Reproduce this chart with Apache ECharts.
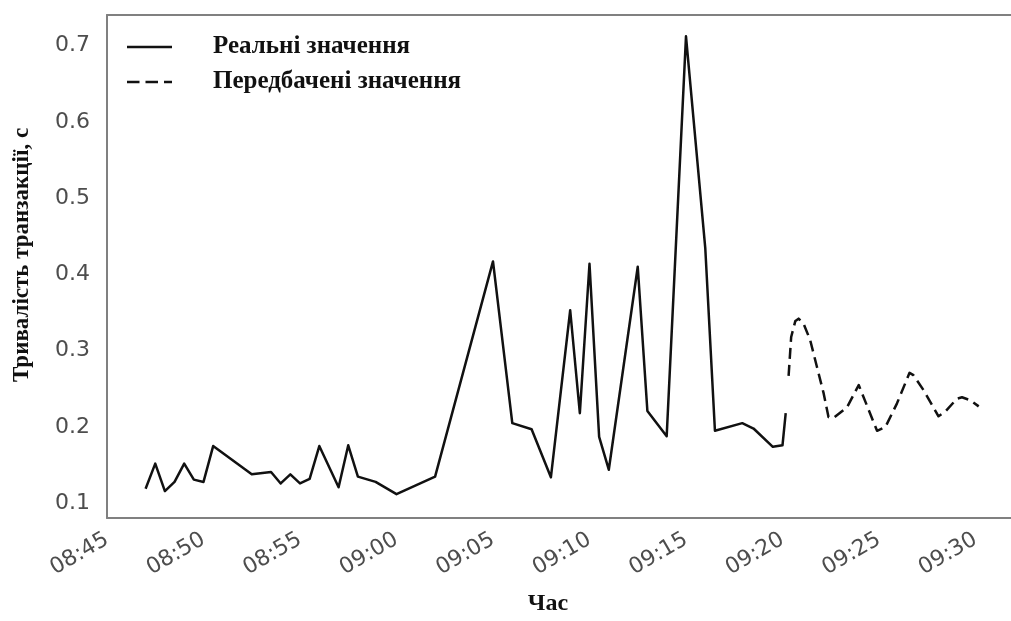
<!DOCTYPE html>
<html>
<head>
<meta charset="utf-8">
<script src="https://cdn.jsdelivr.net/npm/echarts@6/dist/echarts.min.js"></script>
<style>
  html, body { margin: 0; padding: 0; background: #fff; }
  #chart { width: 1011px; height: 621px; }
</style>
</head>
<body>
<div id="chart"></div>
<script>
// Measured transaction durations (seconds) with their timestamps
const realTimes = [
  '08:47:00', '08:47:30', '08:48:00', '08:48:30', '08:49:00', '08:49:30', '08:50:00', '08:50:30',
  '08:52:30', '08:53:30', '08:54:00', '08:54:30', '08:55:00', '08:55:30', '08:56:00', '08:57:00',
  '08:57:30', '08:58:00', '08:58:55', '09:00:00', '09:02:00', '09:05:00', '09:06:00', '09:07:00',
  '09:08:00', '09:09:00', '09:09:30', '09:10:00', '09:10:30', '09:11:00', '09:12:30', '09:13:00',
  '09:14:00', '09:15:00', '09:16:00', '09:16:30', '09:17:55', '09:18:30', '09:19:30', '09:20:00',
  '09:20:10'
];
const realValues = [
  0.119, 0.152, 0.116, 0.128, 0.152, 0.131, 0.128, 0.175,
  0.138, 0.141, 0.126, 0.138, 0.126, 0.132, 0.175, 0.121,
  0.176, 0.135, 0.128, 0.112, 0.135, 0.417, 0.205, 0.197,
  0.134, 0.353, 0.218, 0.414, 0.187, 0.144, 0.410, 0.221,
  0.188, 0.712, 0.434, 0.195, 0.205, 0.198, 0.174, 0.176,
  0.218
];

// Forecast values
const predTimes = [
  '09:20:19', '09:20:27', '09:20:40', '09:20:50', '09:21:05', '09:21:26', '09:21:47', '09:22:08',
  '09:22:23', '09:22:39', '09:23:21', '09:23:57', '09:24:54', '09:25:20', '09:25:56', '09:26:35',
  '09:26:47', '09:27:19', '09:28:05', '09:28:26', '09:29:02', '09:29:18', '09:29:44', '09:30:10'
];
const predValues = [
  0.267, 0.318, 0.339, 0.342, 0.336, 0.314, 0.279, 0.244,
  0.213, 0.212, 0.226, 0.255, 0.195, 0.200, 0.231, 0.271,
  0.268, 0.248, 0.214, 0.220, 0.237, 0.239, 0.235, 0.227
];

const xTickLabels = ['08:45', '08:50', '08:55', '09:00', '09:05', '09:10', '09:15', '09:20', '09:25', '09:30'];
const yTickValues = [0.1, 0.2, 0.3, 0.4, 0.5, 0.6, 0.7];

const BASE_MIN = 8 * 60 + 45;
function toMinutes(s) {
  const p = s.split(':').map(Number);
  return p[0] * 60 + p[1] + (p[2] || 0) / 60 - BASE_MIN;
}
function fmtMinutes(v) {
  const total = Math.round(v + BASE_MIN);
  const h = Math.floor(total / 60), m = total % 60;
  return String(h).padStart(2, '0') + ':' + String(m).padStart(2, '0');
}

const realData = realTimes.map((t, i) => [toMinutes(t), realValues[i]]);
const predData = predTimes.map((t, i) => [toMinutes(t), predValues[i]]);
const xTickValues = xTickLabels.map(toMinutes);

const serif = '"Liberation Serif", "Times New Roman", serif';
const sans = '"DejaVu Sans", sans-serif';
const frame = { show: true, onZero: false, lineStyle: { color: '#808080', width: 2 } };

// legend glyphs: a plain stroke and a three-dash stroke (the outer points pad the box)
const solidIcon = 'path://M0,0L0,0M0,5.75H45V8.25H0ZM45,14L45,14';
const dashIcon = 'path://M0,0L0,0M0,5.75H12.5V8.25H0ZM18.5,5.75H31V8.25H18.5ZM37,5.75H45V8.25H37ZM45,14L45,14';

const X_MIN = 0, X_MAX = 46.84;

const chart = echarts.init(document.getElementById('chart'), null, { renderer: 'canvas' });
chart.setOption({
  animation: false,
  backgroundColor: '#ffffff',
  grid: { left: 107, top: 15, right: 0, bottom: 103 },
  legend: {
    orient: 'vertical',
    left: 127, top: 34, padding: 0,
    itemWidth: 45, itemHeight: 14, itemGap: 9,
    textStyle: {
      fontFamily: serif, fontWeight: 'bold', fontSize: 25, color: '#111',
      lineHeight: 26, padding: [0, 0, 0, 36]
    },
    data: [
      { name: 'Реальні значення', icon: solidIcon },
      { name: 'Передбачені значення', icon: dashIcon }
    ]
  },
  xAxis: [
    {
      type: 'value', position: 'bottom',
      min: X_MIN, max: X_MAX,
      axisLine: frame,
      axisTick: { show: false },
      splitLine: { show: false },
      axisLabel: {
        customValues: xTickValues,
        formatter: fmtMinutes,
        rotate: 30,
        margin: 20,
        fontFamily: sans, fontSize: 22, color: '#4d4d4d'
      }
    },
    {
      // top edge of the frame
      type: 'value', position: 'top',
      min: X_MIN, max: X_MAX,
      axisLine: frame,
      axisTick: { show: false },
      splitLine: { show: false },
      axisLabel: { show: false }
    }
  ],
  yAxis: {
    type: 'value',
    min: 0.0807, max: 0.740,
    axisLine: frame,
    axisTick: { show: false },
    splitLine: { show: false },
    axisLabel: {
      customValues: yTickValues,
      formatter: v => v.toFixed(1),
      margin: 17,
      fontFamily: sans, fontSize: 22, color: '#4d4d4d'
    }
  },
  graphic: [
    {
      type: 'text', x: 22, y: 255, rotation: Math.PI / 2,
      style: {
        text: 'Тривалість транзакції, с', fill: '#111',
        font: 'bold 23px ' + serif, align: 'center', verticalAlign: 'middle'
      }
    },
    {
      type: 'text', x: 548, y: 604,
      style: {
        text: 'Час', fill: '#111',
        font: 'bold 24px ' + serif, align: 'center', verticalAlign: 'middle'
      }
    }
  ],
  series: [
    {
      name: 'Реальні значення', type: 'line', data: realData,
      showSymbol: false, symbol: 'none',
      lineStyle: { color: '#111', width: 2.5, join: 'round' },
      itemStyle: { color: '#111' }
    },
    {
      name: 'Передбачені значення', type: 'line', data: predData,
      showSymbol: false, symbol: 'none',
      lineStyle: { color: '#111', width: 2.5, type: [11, 6], join: 'round' },
      itemStyle: { color: '#111' }
    }
  ]
});
</script>
</body>
</html>
